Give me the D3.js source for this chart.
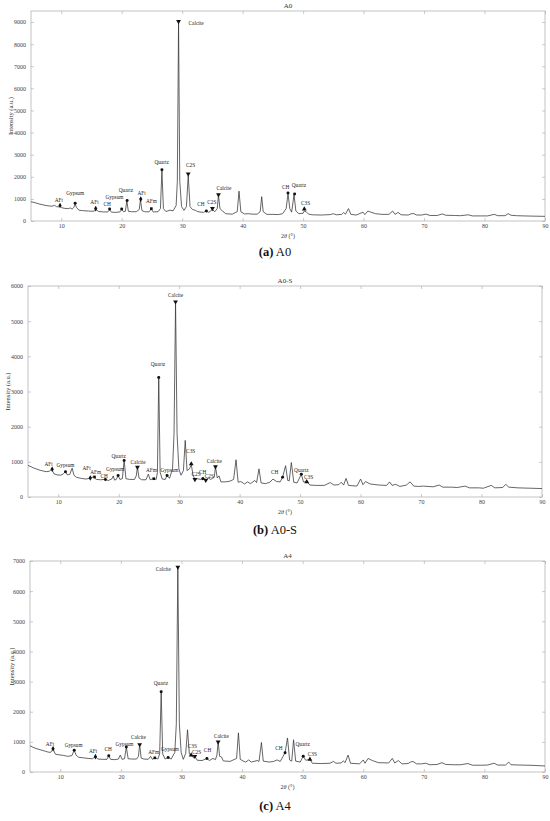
<!DOCTYPE html>
<html><head><meta charset="utf-8">
<script src="https://cdn.jsdelivr.net/npm/d3@7"></script>
<style>body{margin:0;background:#fff} svg{display:block}</style>
</head><body>
<svg id="chart" width="550" height="821"></svg>
<script>
// ---------- DATA ----------
const xTicks = [10,20,30,40,50,60,70,80,90];
const yTicksA0 = [0,1000,2000,3000,4000,5000,6000,7000,8000,9000];
const yTicksA0S = [0,1000,2000,3000,4000,5000,6000];
const yTicksA4 = [0,1000,2000,3000,4000,5000,6000,7000];

// [2θ (°), intensity (a.u.)]
const a0Pattern = [[5,870],[5.5,840],[6,800],[6.5,760],[7,730],[7.5,700],[8,680],[8.5,670],[8.9,710],[9.2,650],[9.6,640],[9.8,690],[10.1,600],[10.6,570],[11.2,560],[11.5,590],[11.8,540],[12.1,620],[12.3,770],[12.5,620],[12.9,490],[13.5,470],[14.5,450],[15.3,440],[15.8,500],[16.2,430],[17,410],[17.7,410],[18,510],[18.3,400],[19,390],[19.7,410],[20,530],[20.3,420],[20.6,440],[20.85,910],[21.1,440],[21.6,420],[22.4,420],[22.9,520],[23.1,960],[23.35,470],[23.8,420],[24.5,410],[24.9,540],[25.2,410],[26,420],[26.4,560],[26.65,2280],[26.9,560],[27.3,430],[28,490],[28.5,460],[29,700],[29.2,1800],[29.4,9000],[29.6,1800],[29.9,650],[30.3,480],[30.7,650],[31.0,2050],[31.3,650],[31.7,520],[32.2,480],[32.6,420],[33.5,390],[34,450],[34.4,390],[35,520],[35.4,420],[35.8,560],[36.0,1160],[36.25,560],[36.6,470],[37.2,330],[38.3,310],[39.1,420],[39.4,1350],[39.7,420],[40.3,320],[41,330],[41.6,310],[42.4,310],[42.9,420],[43.15,1100],[43.4,420],[44,300],[45,300],[45.9,290],[46.6,330],[47.2,560],[47.5,1240],[47.8,560],[48.1,400],[48.5,1190],[48.8,450],[49.3,330],[50,350],[50.2,450],[50.5,420],[50.9,310],[51.5,280],[53,270],[54.5,290],[55,330],[55.5,280],[56.4,300],[56.7,380],[57,310],[57.5,560],[57.9,300],[58.8,270],[59.9,400],[60.2,290],[60.7,450],[61.2,400],[62,330],[63,300],[64.2,300],[64.8,450],[65.2,300],[65.7,390],[66.2,280],[67.4,270],[67.8,320],[68.2,340],[68.8,270],[69.6,270],[70.3,310],[71,250],[72.2,250],[73,320],[73.6,260],[75,250],[76,240],[77.3,280],[78,230],[79.5,230],[80.5,230],[81.6,300],[82.2,240],[83.4,240],[83.9,330],[84.4,260],[85.3,240],[86.5,230],[88,220],[90,210]];

const a0sPattern = [[5,900],[5.5,860],[6,820],[6.5,790],[7,760],[7.5,740],[8,720],[8.5,730],[8.9,790],[9.3,660],[9.8,630],[10.4,620],[10.8,650],[11.2,720],[11.5,630],[11.9,640],[12.3,820],[12.6,620],[13,560],[13.8,530],[14.6,510],[15.3,540],[15.8,570],[16.3,500],[17,490],[17.7,500],[18.3,470],[18.9,520],[19.1,600],[19.3,480],[19.6,500],[19.9,610],[20.2,500],[20.6,520],[20.9,1040],[21.2,520],[21.8,500],[22.6,500],[22.9,600],[23.1,850],[23.35,540],[23.8,490],[24.5,490],[24.9,650],[25.2,490],[25.8,530],[26.2,500],[26.4,700],[26.62,3400],[26.85,700],[27.2,510],[27.7,500],[28,610],[28.4,530],[28.9,800],[29.15,1800],[29.4,5550],[29.65,1800],[29.95,800],[30.3,620],[30.7,750],[31.0,1610],[31.3,750],[31.7,800],[32.0,920],[32.3,620],[32.6,500],[33,520],[33.6,500],[34,560],[34.4,470],[34.8,540],[35.2,500],[35.8,560],[36.0,860],[36.3,540],[36.6,600],[36.9,430],[37.6,430],[38.4,450],[39,500],[39.4,1060],[39.75,420],[40.2,440],[40.8,370],[41.3,430],[41.8,380],[42.5,470],[42.8,410],[43.2,800],[43.55,400],[44.3,380],[45.0,420],[45.5,510],[46.1,440],[46.7,430],[47.1,560],[47.6,890],[47.95,470],[48.2,460],[48.55,980],[48.95,420],[49.5,400],[50.2,650],[50.55,430],[51.2,430],[51.6,340],[52.5,330],[54,330],[55,410],[55.6,340],[56.4,350],[56.8,420],[57.2,340],[57.6,530],[58,330],[59.4,310],[60,510],[60.4,350],[60.8,440],[61.6,370],[63,340],[64.3,330],[64.8,430],[65.2,330],[65.8,360],[66.5,300],[67.6,340],[67.9,390],[68.2,430],[68.8,310],[69.6,300],[70.4,310],[72,290],[73,340],[73.6,280],[75,280],[76,270],[77.3,310],[78,260],[79.5,260],[80.3,250],[81.6,330],[82.2,260],[83.5,270],[84,360],[84.5,280],[86,260],[88,250],[90,240]];

const a4Pattern = [[5,870],[5.5,820],[6,780],[6.5,750],[7,720],[7.5,690],[8,660],[8.4,650],[8.8,760],[9.2,590],[9.8,570],[10.5,550],[11.2,520],[11.9,540],[12.3,720],[12.6,560],[13,490],[13.8,470],[14.6,450],[15.3,440],[15.8,510],[16.2,430],[17,420],[17.7,420],[18,540],[18.3,420],[19,410],[19.6,430],[19.9,560],[20.2,420],[20.6,440],[20.9,830],[21.2,440],[21.8,430],[22.6,430],[22.9,520],[23.1,910],[23.35,460],[23.8,430],[24.5,420],[24.9,520],[25.2,420],[25.6,470],[26.1,430],[26.4,600],[26.65,2660],[26.9,600],[27.3,430],[27.8,480],[28.3,430],[28.9,650],[29.15,1600],[29.4,6800],[29.65,1600],[29.95,650],[30.3,420],[30.7,620],[31.0,1400],[31.3,600],[31.6,560],[31.9,480],[32.2,520],[32.6,390],[33.4,380],[34.2,450],[34.6,380],[35.2,450],[35.6,410],[35.85,560],[36.05,1000],[36.3,520],[36.6,500],[36.9,370],[38,350],[39.1,450],[39.4,1300],[39.7,420],[40.2,360],[40.6,330],[41.1,400],[41.5,330],[42.5,380],[42.8,350],[43.2,980],[43.5,360],[44.5,330],[45.2,350],[45.8,400],[46.3,350],[47.1,640],[47.5,1130],[47.85,400],[48.2,360],[48.5,1070],[48.85,360],[49.6,330],[50.1,520],[50.5,390],[51.2,420],[51.6,290],[53,280],[54.5,290],[55.1,350],[55.5,290],[56.4,300],[56.7,370],[57,310],[57.5,560],[57.9,290],[59.4,270],[60,400],[60.3,290],[60.8,450],[61.5,380],[62.5,310],[64.2,300],[64.8,450],[65.2,300],[65.8,380],[66.4,270],[67.4,280],[67.8,330],[68.2,350],[68.8,270],[69.6,270],[70.3,290],[71,240],[72.2,250],[73,310],[73.6,250],[75,240],[76,240],[77.3,280],[78,225],[79.5,225],[80.5,230],[81.6,290],[82.2,230],[83.5,230],[84,330],[84.4,240],[86,230],[88,220],[90,200]];

// [phase, marker 2θ, marker intensity, label 2θ, label intensity]
const a0Peaks = [["AFt",9.8,700,9.6,950],["Gypsum",12.3,800,12.3,1250],["AFt",15.7,560,15.5,875],["CH",18.0,540,17.6,770],["Gypsum",20.0,540,18.8,1100],["Quartz",20.9,930,20.7,1400],["AFt",23.15,990,23.3,1280],["AFm",24.9,560,24.9,900],["Quartz",26.65,2320,26.6,2660],["Calcite",29.4,9030,32.3,8950],["C2S",31.0,2130,31.4,2550],["CH",34.0,450,33.1,770],["C2S",35.0,570,34.9,850],["Calcite",36.0,1190,36.9,1480],["CH",47.5,1270,47.1,1560],["Quartz",48.6,1220,49.3,1630],["C3S",50.2,540,50.4,800]];
const a0sPeaks = [["AFt",9.0,790,8.4,950],["Gypsum",11.2,720,11.2,920],["AFt",15.3,540,14.7,820],["AFm",16.0,570,16.2,700],["CH",17.8,500,17.6,600],["Gypsum",19.9,610,19.4,800],["Quartz",20.9,1040,20.0,1170],["Calcite",23.1,850,23.2,990],["AFm",25.8,520,25.4,760],["Quartz",26.62,3400,26.5,3770],["Gypsum",28.0,610,28.4,780],["Calcite",29.4,5550,29.4,5740],["C3S",32.0,940,31.9,1320],["C2S",32.6,500,32.8,650],["CH",33.9,520,33.9,720],["C2S",34.4,480,35.0,610],["Calcite",36.0,860,35.8,1010],["CH",47.1,560,45.8,710],["Quartz",50.2,650,50.2,770],["C3S",51.1,430,51.4,560]];
const a4Peaks = [["AFt",8.8,770,8.3,920],["Gypsum",12.3,720,12.2,895],["AFt",15.8,510,15.4,695],["CH",18.0,540,17.9,750],["Gypsum",20.9,830,20.6,920],["Calcite",23.1,910,22.9,1170],["AFm",25.6,470,25.4,670],["Quartz",26.65,2660,26.6,2940],["Gypsum",27.8,480,28.1,750],["Calcite",29.4,6800,27.0,6720],["C3S",31.6,560,31.8,870],["C2S",32.2,520,32.5,670],["CH",34.2,450,34.3,730],["Calcite",36.05,1000,36.6,1200],["CH",47.1,640,46.1,785],["Quartz",50.1,520,50.0,917],["C3S",51.2,420,51.6,600]];

// ---------- LAYOUT ----------
const panels = [
  {title:"A0", tag:"(a)", name:"A0", data:a0Pattern, peaks:a0Peaks, yTicks:yTicksA0, yMax:9500, left:31, right:545, top:11, bottom:221, yLabelX:10, captionY:255.5},
  {title:"A0-S", tag:"(b)", name:"A0-S", data:a0sPattern, peaks:a0sPeaks, yTicks:yTicksA0S, yMax:6000, left:28, right:542, top:286, bottom:497, yLabelX:7, captionY:534},
  {title:"A4", tag:"(c)", name:"A4", data:a4Pattern, peaks:a4Peaks, yTicks:yTicksA4, yMax:7000, left:30, right:545, top:561, bottom:772, yLabelX:11, captionY:810}
];
const symbolFor = {Calcite:"down", C2S:"down", C3S:"up", Quartz:"circle", CH:"circle", Gypsum:"circle", AFt:"diamond", AFm:"square"};
const frameColor = "#a8a8a8";
const serif = "'Liberation Serif','Times New Roman',serif";

const svg = d3.select("#chart");

panels.forEach((p, i) => {
  const x = d3.scaleLinear().domain([5, 90]).range([p.left, p.right]);
  const y = d3.scaleLinear().domain([0, p.yMax]).range([p.bottom, p.top]);
  const g = svg.append("g");

  const clipId = "clip" + i;
  svg.append("clipPath").attr("id", clipId).append("rect")
    .attr("x", p.left).attr("y", p.top).attr("width", p.right - p.left).attr("height", p.bottom - p.top);

  const styleAxis = sel => {
    sel.select(".domain").remove();
    sel.selectAll(".tick line").attr("stroke", frameColor).attr("stroke-width", 0.6);
    sel.selectAll("text").attr("fill", "#444").style("font-family", serif).style("font-size", "6px");
  };
  g.append("g").attr("transform", `translate(0,${p.bottom})`)
    .call(d3.axisBottom(x).tickValues(xTicks).tickSizeInner(-3).tickSizeOuter(0).tickPadding(3).tickFormat(d3.format("d")))
    .call(styleAxis);
  g.append("g").attr("transform", `translate(0,${p.top})`)
    .call(d3.axisTop(x).tickValues(xTicks).tickSizeInner(-3).tickSizeOuter(0).tickFormat(""))
    .call(styleAxis);
  g.append("g").attr("transform", `translate(${p.left},0)`)
    .call(d3.axisLeft(y).tickValues(p.yTicks).tickSizeInner(-3).tickSizeOuter(0).tickPadding(5).tickFormat(d3.format("d")))
    .call(styleAxis);
  g.append("g").attr("transform", `translate(${p.right},0)`)
    .call(d3.axisRight(y).tickValues(p.yTicks).tickSizeInner(-3).tickSizeOuter(0).tickFormat(""))
    .call(styleAxis);

  g.append("rect").attr("x", p.left).attr("y", p.top)
    .attr("width", p.right - p.left).attr("height", p.bottom - p.top)
    .attr("fill", "none").attr("stroke", frameColor).attr("stroke-width", 0.7);

  g.append("path").datum(p.data)
    .attr("clip-path", `url(#${clipId})`)
    .attr("fill", "none").attr("stroke", "#333").attr("stroke-width", 0.75)
    .attr("stroke-linejoin", "round")
    .attr("d", d3.line().x(d => x(d[0])).y(d => y(d[1])));

  p.peaks.forEach(pk => {
    const [phase, mt, mi, lt, li] = pk;
    const kind = symbolFor[phase];
    let sym, rot = 0, size = 9;
    if (kind === "down") { sym = d3.symbolTriangle; rot = 180; size = 10; }
    else if (kind === "up") { sym = d3.symbolTriangle; size = 10; }
    else if (kind === "diamond") { sym = d3.symbolDiamond; size = 9; }
    else if (kind === "square") { sym = d3.symbolSquare; size = 7; }
    else { sym = d3.symbolCircle; size = 7; }
    g.append("path")
      .attr("d", d3.symbol().type(sym).size(size)())
      .attr("transform", `translate(${x(mt)},${y(mi)}) rotate(${rot})`)
      .attr("fill", "#111");
    g.append("text")
      .attr("x", x(lt)).attr("y", y(li))
      .attr("text-anchor", "middle").attr("dominant-baseline", "central")
      .attr("fill", "#222").style("font-family", serif).style("font-size", "5.3px")
      .text(phase);
  });

  g.append("text").attr("x", (p.left + p.right) / 2).attr("y", p.top - 3)
    .attr("text-anchor", "middle").attr("fill", "#333")
    .style("font-family", serif).style("font-size", "7px").text(p.title);

  const xl = g.append("text").attr("x", (p.left + p.right) / 2).attr("y", p.bottom + 17)
    .attr("text-anchor", "middle").attr("fill", "#333")
    .style("font-family", serif).style("font-size", "6px");
  xl.append("tspan").text("2");
  xl.append("tspan").style("font-style", "italic").text("θ");
  xl.append("tspan").text(" (°)");

  g.append("text")
    .attr("transform", `translate(${p.yLabelX},${(p.top + p.bottom) / 2}) rotate(-90)`)
    .attr("text-anchor", "middle").attr("dominant-baseline", "central").attr("fill", "#333")
    .style("font-family", serif).style("font-size", "6.5px").text("Intensity (a.u.)");

  const cap = svg.append("text").attr("x", 275).attr("y", p.captionY)
    .attr("text-anchor", "middle").attr("fill", "#111")
    .style("font-family", serif).style("font-size", "12.5px");
  cap.append("tspan").style("font-weight", "bold").text(p.tag);
  cap.append("tspan").text(" " + p.name);
});
</script>
</body></html>
